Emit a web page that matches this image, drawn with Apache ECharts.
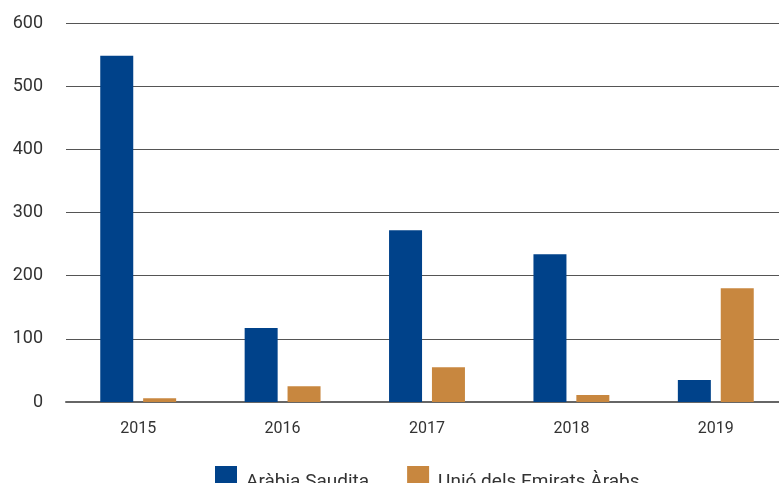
<!DOCTYPE html>
<html><head><meta charset="utf-8">
<script src="https://cdn.jsdelivr.net/npm/echarts@6/dist/echarts.min.js"></script>
<style>html,body{margin:0;padding:0;background:#fff}#c{width:779px;height:483px}</style>
</head><body><div id="c"></div>
<script>
const categories = ['2015','2016','2017','2018','2019'];
const saudi = [548, 117, 272, 234, 35];
const uae = [6, 25, 55, 11, 180];
const yTicks = [0,100,200,300,400,500,600];

const chart = echarts.init(document.getElementById('c'));
chart.setOption({
  animation: false,
  textStyle: {fontFamily: 'Roboto'},
  grid: {left: 66, width: 722, top: 23, bottom: 81, containLabel: false, outerBoundsMode: 'none'},
  legend: {
    top: 466, left: 215, padding: 0, itemWidth: 22, itemHeight: 32, itemGap: 38,
    icon: 'rect',
    textStyle: {fontSize: 19, color: '#333', fontFamily: 'Roboto', padding: [0,0,0,4]},
    data: ['Aràbia Saudita', 'Unió dels Emirats Àrabs']
  },
  xAxis: {
    type: 'category', data: categories,
    axisLine: {lineStyle: {color: '#666', width: 2}},
    axisTick: {show: false},
    axisLabel: {fontSize: 16, color: '#333', margin: 19, fontFamily: 'Roboto'}
  },
  yAxis: {
    type: 'value', min: 0, max: 600, interval: 100,
    axisLine: {show: false}, axisTick: {show: false},
    axisLabel: {fontSize: 18, color: '#333', margin: 23, fontFamily: 'Roboto',
      formatter: v => yTicks.includes(v) ? String(v) : ''},
    splitLine: {lineStyle: {color: '#555', width: 1}}
  },
  series: [
    {name: 'Aràbia Saudita', type: 'bar', data: saudi, barWidth: 33, barGap: '30%',
     itemStyle: {color: '#00428a'}},
    {name: 'Unió dels Emirats Àrabs', type: 'bar', data: uae, barWidth: 33, barGap: '30%',
     itemStyle: {color: '#c8873f'}}
  ]
});
</script></body></html>
